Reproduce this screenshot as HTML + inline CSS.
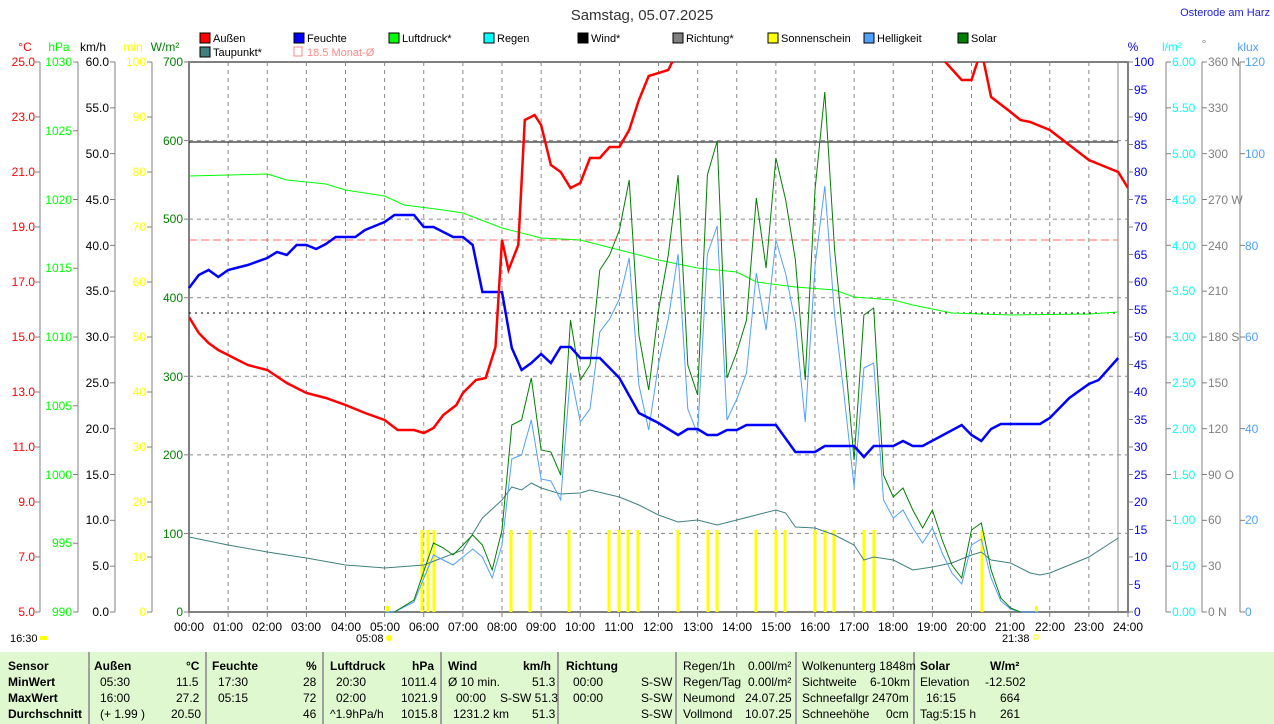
<!DOCTYPE html>
<html><head><meta charset="utf-8"><style>
body{margin:0;background:#fff;width:1274px;height:724px;overflow:hidden;font-family:"Liberation Sans",sans-serif}
svg text{font-family:"Liberation Sans",sans-serif;font-size:12px}
#tbl{position:absolute;left:0;top:652px;width:1274px;height:72px;background:#e0f8d0;font-size:12px}
.c{position:absolute;top:0;height:72px;border-left:2px solid #a0a0a0}
.r{position:absolute;white-space:pre}
.b{font-weight:bold}
</style></head><body>
<svg id="s" width="1274" height="652" style="position:absolute;left:0;top:0">
<text x="642" y="20" text-anchor="middle" font-size="15" style="font-size:15px" fill="#333">Samstag, 05.07.2025</text>
<text x="1270" y="16" text-anchor="end" fill="#2020e0" style="font-size:11px">Osterode am Harz</text>
<g style="font-size:11px">
<rect x="200" y="33" width="10" height="10" fill="#f00" stroke="#000"/><text x="213" y="42" style="font-size:11px">Außen</text>
<rect x="294" y="33" width="10" height="10" fill="#00f" stroke="#000"/><text x="307" y="42" style="font-size:11px">Feuchte</text>
<rect x="389" y="33" width="10" height="10" fill="#0f0" stroke="#000"/><text x="402" y="42" style="font-size:11px">Luftdruck*</text>
<rect x="484" y="33" width="10" height="10" fill="#0ff" stroke="#000"/><text x="497" y="42" style="font-size:11px">Regen</text>
<rect x="578" y="33" width="10" height="10" fill="#000" stroke="#000"/><text x="591" y="42" style="font-size:11px">Wind*</text>
<rect x="673" y="33" width="10" height="10" fill="#808080" stroke="#000"/><text x="686" y="42" style="font-size:11px">Richtung*</text>
<rect x="768" y="33" width="10" height="10" fill="#ff0" stroke="#000"/><text x="781" y="42" style="font-size:11px">Sonnenschein</text>
<rect x="864" y="33" width="10" height="10" fill="#50a0ff" stroke="#000"/><text x="877" y="42" style="font-size:11px">Helligkeit</text>
<rect x="958" y="33" width="10" height="10" fill="#008000" stroke="#000"/><text x="971" y="42" style="font-size:11px">Solar</text>
<rect x="200" y="47" width="10" height="10" fill="#408080" stroke="#000"/><text x="213" y="56" style="font-size:11px">Taupunkt*</text>
<rect x="294" y="47" width="8" height="9" fill="none" stroke="#f88"/><text x="307" y="56" fill="#f88" style="font-size:11px">18.5 Monat-Ø</text>
</g>
<g text-anchor="middle">
<text x="25" y="51" fill="#f00">°C</text><text x="59" y="51" fill="#0f0">hPa</text><text x="93" y="51">km/h</text><text x="133" y="51" fill="#ff0">min</text><text x="165" y="51" fill="#008000">W/m²</text>
<text x="1133" y="51" fill="#00f">%</text><text x="1172" y="51" fill="#0ff">l/m²</text><text x="1204" y="48" fill="#808080">°</text><text x="1248" y="51" fill="#50a0ff">klux</text>
</g>
<g id="grid"></g>
<g id="axes"></g>
<g id="series"></g>
<text x="10" y="642" style="font-size:11px">16:30</text><rect x="40" y="636" width="7" height="4" fill="#ff0"/>
<text x="356" y="642" style="font-size:11px">05:08</text><circle cx="389" cy="638" r="3" fill="#ff0"/>
<text x="1002" y="642" style="font-size:11px">21:38</text><rect x="1034" y="635" width="4" height="4" fill="none" stroke="#ff0"/>
</svg>
<div id="tbl">
<div class="c" style="left:88px"></div><div class="c" style="left:205px"></div><div class="c" style="left:322px"></div><div class="c" style="left:440px"></div><div class="c" style="left:557px"></div><div class="c" style="left:675px"></div><div class="c" style="left:795px"></div><div class="c" style="left:913px"></div>
<div class="r b" style="left:8px;top:7px">Sensor</div><div class="r b" style="left:8px;top:23px">MinWert</div><div class="r b" style="left:8px;top:39px">MaxWert</div><div class="r b" style="left:8px;top:55px">Durchschnitt</div>
<div class="r b" style="left:94px;top:7px">Außen</div><div class="r b" style="left:186px;top:7px">°C</div>
<div class="r" style="left:100px;top:23px">05:30</div><div class="r" style="left:176px;top:23px">11.5</div>
<div class="r" style="left:100px;top:39px">16:00</div><div class="r" style="left:176px;top:39px">27.2</div>
<div class="r" style="left:100px;top:55px">(+ 1.99 )</div><div class="r" style="left:171px;top:55px">20.50</div>
<div class="r b" style="left:212px;top:7px">Feuchte</div><div class="r b" style="left:306px;top:7px">%</div>
<div class="r" style="left:218px;top:23px">17:30</div><div class="r" style="left:303px;top:23px">28</div>
<div class="r" style="left:218px;top:39px">05:15</div><div class="r" style="left:303px;top:39px">72</div>
<div class="r" style="left:303px;top:55px">46</div>
<div class="r b" style="left:330px;top:7px">Luftdruck</div><div class="r b" style="left:412px;top:7px">hPa</div>
<div class="r" style="left:336px;top:23px">20:30</div><div class="r" style="left:401px;top:23px">1011.4</div>
<div class="r" style="left:336px;top:39px">02:00</div><div class="r" style="left:401px;top:39px">1021.9</div>
<div class="r" style="left:330px;top:55px">^1.9hPa/h</div><div class="r" style="left:401px;top:55px">1015.8</div>
<div class="r b" style="left:448px;top:7px">Wind</div><div class="r b" style="left:523px;top:7px">km/h</div>
<div class="r" style="left:448px;top:23px">Ø 10 min.</div><div class="r" style="left:532px;top:23px">51.3</div>
<div class="r" style="left:456px;top:39px">00:00</div><div class="r" style="left:500px;top:39px">S-SW 51.3</div>
<div class="r" style="left:453px;top:55px">1231.2 km</div><div class="r" style="left:532px;top:55px">51.3</div>
<div class="r b" style="left:566px;top:7px">Richtung</div>
<div class="r" style="left:573px;top:23px">00:00</div><div class="r" style="left:641px;top:23px">S-SW</div>
<div class="r" style="left:573px;top:39px">00:00</div><div class="r" style="left:641px;top:39px">S-SW</div>
<div class="r" style="left:641px;top:55px">S-SW</div>
<div class="r" style="left:683px;top:7px">Regen/1h</div><div class="r" style="left:748px;top:7px">0.00l/m²</div>
<div class="r" style="left:683px;top:23px">Regen/Tag</div><div class="r" style="left:748px;top:23px">0.00l/m²</div>
<div class="r" style="left:683px;top:39px">Neumond</div><div class="r" style="left:745px;top:39px">24.07.25</div>
<div class="r" style="left:683px;top:55px">Vollmond</div><div class="r" style="left:745px;top:55px">10.07.25</div>
<div class="r" style="left:802px;top:7px">Wolkenunterg 1848m</div>
<div class="r" style="left:802px;top:23px">Sichtweite</div><div class="r" style="left:870px;top:23px">6-10km</div>
<div class="r" style="left:802px;top:39px">Schneefallgr</div><div class="r" style="left:872px;top:39px">2470m</div>
<div class="r" style="left:802px;top:55px">Schneehöhe</div><div class="r" style="left:886px;top:55px">0cm</div>
<div class="r b" style="left:920px;top:7px">Solar</div><div class="r b" style="left:990px;top:7px">W/m²</div>
<div class="r" style="left:920px;top:23px">Elevation</div><div class="r" style="left:985px;top:23px">-12.502</div>
<div class="r" style="left:926px;top:39px">16:15</div><div class="r" style="left:1000px;top:39px">664</div>
<div class="r" style="left:920px;top:55px">Tag:5:15 h</div><div class="r" style="left:1000px;top:55px">261</div>
</div>
<script>
var NS="http://www.w3.org/2000/svg";
function el(p,t,a){var e=document.createElementNS(NS,t);for(var k in a)e.setAttribute(k,a[k]);document.getElementById(p).appendChild(e);return e;}
var X0=189,X1=1128,Y0=62,Y1=612;
function X(h){return X0+h*(X1-X0)/24;}
function tm(s){var p=s.split(':');return +p[0]+p[1]/60;}
// grid
for(var i=1;i<24;i++)el('grid','line',{x1:X(i),x2:X(i),y1:Y0,y2:Y1,stroke:'#888','stroke-dasharray':'4,4'});
for(var j=1;j<7;j++){var y=Y1-j*550/7;el('grid','line',{x1:X0,x2:X1,y1:y,y2:y,stroke:'#888','stroke-dasharray':'4,4'});}
el('grid','line',{x1:1118,x2:1118,y1:Y0,y2:Y1,stroke:'#888'});
el('grid','rect',{x:X0,y:Y0,width:X1-X0,height:Y1-Y0,fill:'none',stroke:'#808080','stroke-width':2});
// left axes lines
[40,78,115,152,189].forEach(function(x){el('axes','line',{x1:x,x2:x,y1:Y0,y2:Y1,stroke:'#808080'});});
[1166,1202,1240].forEach(function(x){el('axes','line',{x1:x,x2:x,y1:Y0,y2:Y1,stroke:'#808080'});});
function ticks(x,n,dir){for(var i=0;i<=n;i++){var y=Y1-i*550/n;el('axes','line',{x1:x,x2:x+dir*5,y1:y,y2:y,stroke:'#808080'});}}
ticks(40,10,-1);ticks(78,8,-1);ticks(115,12,-1);ticks(152,10,-1);ticks(189,7,-1);
ticks(1128,20,1);ticks(1166,12,1);ticks(1202,12,1);ticks(1240,6,1);
for(var i=0;i<=24;i++)el('axes','line',{x1:X(i),x2:X(i),y1:Y1,y2:Y1+5,stroke:'#808080'});
// lines
function poly(pts,col,w,extra){var s=pts.map(function(p){return X(tm(p[0])).toFixed(1)+','+p[1];}).join(' ');var a={points:s,fill:'none',stroke:col,'stroke-width':w};for(var k in extra)a[k]=extra[k];el('series','polyline',a);}
var cp=el('series','clipPath',{id:'cp'});var r=document.createElementNS(NS,'rect');r.setAttribute('x',X0);r.setAttribute('y',Y0);r.setAttribute('width',X1-X0);r.setAttribute('height',Y1-Y0);cp.appendChild(r);
el('series','line',{x1:X0,x2:1118,y1:240,y2:240,stroke:'#f66','stroke-dasharray':'8,4'});
el('series','line',{x1:X0,x2:1118,y1:142,y2:142,stroke:'#000'});
el('series','line',{x1:X0,x2:1118,y1:313,y2:313,stroke:'#000','stroke-dasharray':'2,4'});
// sunshine bars
[422,428,434,511,530,569,609,619,628,638,678,708,717,756,776,785,815,825,834,864,874,982].forEach(function(x){el('series','rect',{x:x-1.5,y:530,width:3,height:82,fill:'#ff0'});});
el('series','rect',{x:386,y:606,width:3,height:6,fill:'#ff0'});
el('series','rect',{x:1035,y:606,width:3,height:6,fill:'#ff0'});
poly([['0:00',537],['1:00',545],['2:00',552],['3:00',558],['4:00',565],['5:00',568],['6:00',565],['7:00',550],['7:30',518],['8:00',500],['8:15',487],['8:30',490],['8:45',483],['9:00',488],['9:30',494],['10:00',493],['10:15',490],['11:00',497],['11:30',505],['12:00',515],['12:30',522],['13:00',520],['13:30',525],['14:00',520],['14:30',515],['15:00',510],['15:15',513],['15:30',527],['16:00',528],['16:30',535],['17:00',545],['17:15',560],['17:30',557],['18:00',560],['18:30',570],['19:00',567],['19:30',563],['20:00',555],['20:15',552],['20:30',560],['21:00',563],['21:30',573],['21:45',575],['22:00',573],['23:00',557],['23:45',538]],'#408080',1);
poly([['0:00',176],['1:00',175],['2:00',174],['2:30',180],['3:30',184],['4:00',190],['5:00',196],['5:30',205],['6:30',210],['7:00',213],['8:00',228],['9:00',238],['10:00',240],['11:00',250],['12:00',260],['13:00',268],['14:00',272],['14:30',282],['15:30',287],['16:30',290],['17:00',297],['18:00',300],['18:30',305],['19:30',313],['21:00',315],['23:00',314],['23:45',312]],'#0f0',1);
var sol=[['5:15',612],['5:45',600],['6:15',543],['6:30',548],['6:45',555],['7:00',545],['7:15',535],['7:30',545],['7:45',570],['8:00',530],['8:15',425],['8:30',420],['8:45',378],['9:00',450],['9:15',452],['9:30',475],['9:45',320],['10:00',380],['10:15',365],['10:30',270],['10:45',255],['11:00',230],['11:15',180],['11:30',335],['11:45',390],['12:00',310],['12:15',255],['12:30',175],['12:45',365],['13:00',395],['13:15',175],['13:30',141],['13:45',378],['14:00',352],['14:15',320],['14:30',198],['14:45',268],['15:00',158],['15:15',200],['15:30',260],['15:45',380],['16:00',190],['16:15',92],['16:30',250],['16:45',350],['17:00',460],['17:15',315],['17:30',308],['17:45',475],['18:00',497],['18:15',488],['18:30',510],['18:45',528],['19:00',510],['19:15',540],['19:30',565],['19:45',578],['20:00',530],['20:15',523],['20:30',570],['20:45',598],['21:00',608],['21:15',612]];
var hel=sol.map(function(p){var v=612-(612-p[1])*0.82;return [p[0],Math.round(v)];});
poly([['5:00',612]].concat(hel).concat([['21:45',612]]),'#50a0ff',1);
poly(sol,'#008000',1);
poly([['0:00',288],['0:15',275],['0:30',270],['0:45',277],['1:00',270],['1:30',265],['2:00',258],['2:15',252],['2:30',255],['2:45',245],['3:00',245],['3:15',249],['3:30',244],['3:45',237],['4:15',237],['4:30',230],['5:00',222],['5:15',215],['5:45',215],['6:00',227],['6:15',227],['6:45',237],['7:00',237],['7:15',245],['7:30',292],['8:00',292],['8:15',348],['8:30',370],['8:45',363],['9:00',354],['9:15',363],['9:30',347],['9:45',347],['10:00',358],['10:30',358],['11:00',378],['11:30',413],['12:00',423],['12:30',435],['12:45',429],['13:00',429],['13:15',435],['13:30',435],['13:45',430],['14:00',430],['14:15',425],['15:00',425],['15:30',452],['16:00',452],['16:15',446],['17:00',446],['17:15',457],['17:30',446],['18:00',446],['18:15',441],['18:30',446],['18:45',446],['19:45',425],['20:00',435],['20:15',441],['20:30',429],['20:45',424],['21:45',424],['22:00',418],['22:30',398],['23:00',384],['23:15',380],['23:45',358]],'#00f',2.5);
poly([['0:00',317],['0:15',333],['0:30',343],['0:45',350],['1:00',355],['1:30',365],['2:00',370],['2:30',383],['3:00',393],['3:30',398],['4:00',405],['4:30',413],['5:00',420],['5:20',430],['5:45',430],['6:00',433],['6:15',428],['6:30',415],['6:50',405],['7:00',393],['7:20',380],['7:35',378],['7:50',347],['8:00',240],['8:10',270],['8:25',245],['8:35',120],['8:50',115],['9:00',125],['9:15',165],['9:30',172],['9:45',188],['10:00',183],['10:15',158],['10:30',158],['10:45',147],['11:00',147],['11:15',130],['11:30',100],['11:45',76],['12:15',70],['12:30',50],['19:00',50],['19:20',62],['19:45',80],['20:00',80],['20:15',50],['20:30',97],['21:00',112],['21:15',120],['21:30',122],['22:00',130],['22:30',145],['23:00',160],['23:30',168],['23:45',172],['24:00',188]],'#f00',2.5,{'clip-path':'url(#cp)'});
</script>
<svg width="1274" height="652" style="position:absolute;left:0;top:0;pointer-events:none">
<g text-anchor="end" style="font-size:12px">
<text x="35" y="66" fill="#f00">25.0</text><text x="35" y="121" fill="#f00">23.0</text><text x="35" y="176" fill="#f00">21.0</text><text x="35" y="231" fill="#f00">19.0</text><text x="35" y="286" fill="#f00">17.0</text><text x="35" y="341" fill="#f00">15.0</text><text x="35" y="396" fill="#f00">13.0</text><text x="35" y="451" fill="#f00">11.0</text><text x="35" y="506" fill="#f00">9.0</text><text x="35" y="561" fill="#f00">7.0</text><text x="35" y="616" fill="#f00">5.0</text>
<text x="72" y="66" fill="#0f0">1030</text><text x="72" y="135" fill="#0f0">1025</text><text x="72" y="204" fill="#0f0">1020</text><text x="72" y="272" fill="#0f0">1015</text><text x="72" y="341" fill="#0f0">1010</text><text x="72" y="410" fill="#0f0">1005</text><text x="72" y="479" fill="#0f0">1000</text><text x="72" y="547" fill="#0f0">995</text><text x="72" y="616" fill="#0f0">990</text>
<text x="109" y="66">60.0</text><text x="109" y="112">55.0</text><text x="109" y="158">50.0</text><text x="109" y="204">45.0</text><text x="109" y="250">40.0</text><text x="109" y="295">35.0</text><text x="109" y="341">30.0</text><text x="109" y="387">25.0</text><text x="109" y="433">20.0</text><text x="109" y="479">15.0</text><text x="109" y="524">10.0</text><text x="109" y="570">5.0</text><text x="109" y="616">0.0</text>
<g fill="#ff0"><text x="146" y="66">100</text><text x="146" y="121">90</text><text x="146" y="176">80</text><text x="146" y="231">70</text><text x="146" y="286">60</text><text x="146" y="341">50</text><text x="146" y="396">40</text><text x="146" y="451">30</text><text x="146" y="506">20</text><text x="146" y="561">10</text><text x="146" y="616">0</text></g>
<g fill="#008000"><text x="183" y="66">700</text><text x="183" y="145">600</text><text x="183" y="223">500</text><text x="183" y="302">400</text><text x="183" y="381">300</text><text x="183" y="459">200</text><text x="183" y="538">100</text><text x="183" y="616">0</text></g>
</g>
<g fill="#00f" style="font-size:12px"><text x="1134" y="66">100</text><text x="1134" y="94">95</text><text x="1134" y="121">90</text><text x="1134" y="149">85</text><text x="1134" y="176">80</text><text x="1134" y="204">75</text><text x="1134" y="231">70</text><text x="1134" y="259">65</text><text x="1134" y="286">60</text><text x="1134" y="314">55</text><text x="1134" y="341">50</text><text x="1134" y="369">45</text><text x="1134" y="396">40</text><text x="1134" y="424">35</text><text x="1134" y="451">30</text><text x="1134" y="479">25</text><text x="1134" y="506">20</text><text x="1134" y="534">15</text><text x="1134" y="561">10</text><text x="1134" y="589">5</text><text x="1134" y="616">0</text></g>
<g fill="#0ff" style="font-size:12px"><text x="1172" y="66">6.00</text><text x="1172" y="112">5.50</text><text x="1172" y="158">5.00</text><text x="1172" y="204">4.50</text><text x="1172" y="250">4.00</text><text x="1172" y="295">3.50</text><text x="1172" y="341">3.00</text><text x="1172" y="387">2.50</text><text x="1172" y="433">2.00</text><text x="1172" y="479">1.50</text><text x="1172" y="524">1.00</text><text x="1172" y="570">0.50</text><text x="1172" y="616">0.00</text></g>
<g fill="#808080" style="font-size:11px"><text x="1208" y="66">360 N</text><text x="1208" y="112">330</text><text x="1208" y="158">300</text><text x="1208" y="204">270 W</text><text x="1208" y="250">240</text><text x="1208" y="295">210</text><text x="1208" y="341">180 S</text><text x="1208" y="387">150</text><text x="1208" y="433">120</text><text x="1208" y="479">90  O</text><text x="1208" y="524">60</text><text x="1208" y="570">30</text><text x="1208" y="616">0    N</text></g>
<g fill="#50a0ff" style="font-size:12px"><text x="1245" y="66">120</text><text x="1245" y="158">100</text><text x="1245" y="250">80</text><text x="1245" y="341">60</text><text x="1245" y="433">40</text><text x="1245" y="524">20</text><text x="1245" y="616">0</text></g>
<g text-anchor="middle" style="font-size:11px">
<text x="189" y="631">00:00</text><text x="228" y="631">01:00</text><text x="267" y="631">02:00</text><text x="306" y="631">03:00</text><text x="346" y="631">04:00</text><text x="385" y="631">05:00</text><text x="424" y="631">06:00</text><text x="463" y="631">07:00</text><text x="502" y="631">08:00</text><text x="541" y="631">09:00</text><text x="580" y="631">10:00</text><text x="619" y="631">11:00</text><text x="658" y="631">12:00</text><text x="698" y="631">13:00</text><text x="737" y="631">14:00</text><text x="776" y="631">15:00</text><text x="815" y="631">16:00</text><text x="854" y="631">17:00</text><text x="893" y="631">18:00</text><text x="932" y="631">19:00</text><text x="971" y="631">20:00</text><text x="1010" y="631">21:00</text><text x="1050" y="631">22:00</text><text x="1089" y="631">23:00</text><text x="1128" y="631">24:00</text>
</g>
</svg>
</body></html>
